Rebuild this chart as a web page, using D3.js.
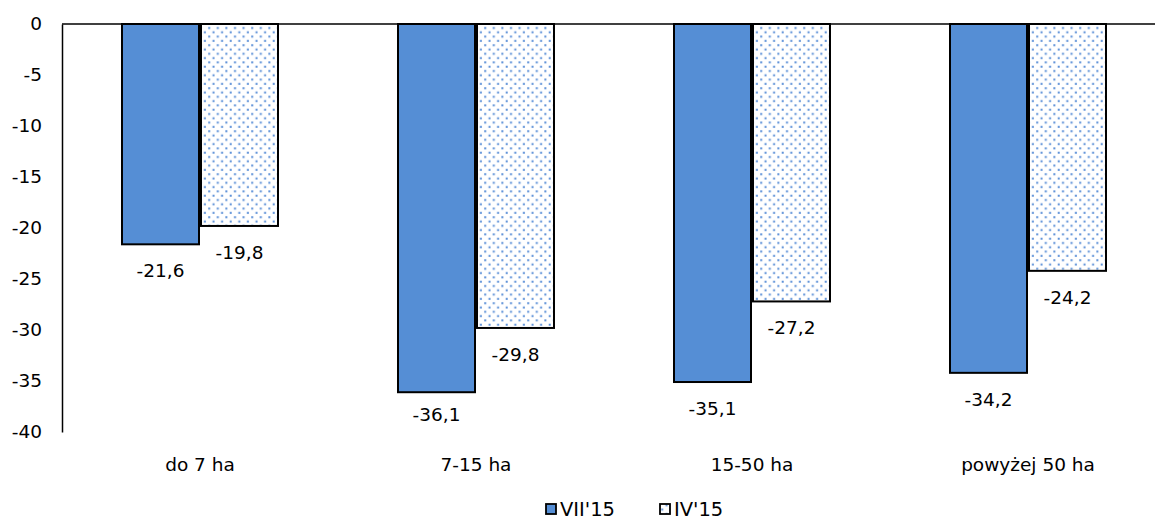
<!DOCTYPE html>
<html>
<head>
<meta charset="utf-8">
<script src="https://cdn.jsdelivr.net/npm/d3@7"></script>
<style>
  html, body { margin: 0; padding: 0; background: #fff; }
  svg { display: block; }
  text { font-family: Tahoma, "DejaVu Sans", sans-serif; fill: #000; }
</style>
</head>
<body>
<svg id="chart" width="1155" height="520"></svg>
<script>
// Farm size groups and their values for two survey rounds
const categories = ["do 7 ha", "7-15 ha", "15-50 ha", "powyżej 50 ha"];
const seriesNames = ["VII'15", "IV'15"];
const valuesVII15 = [-21.6, -36.1, -35.1, -34.2];
const valuesIV15 = [-19.8, -29.8, -27.2, -24.2];
const yTicks = [0, -5, -10, -15, -20, -25, -30, -35, -40];

const svg = d3.select("#chart");
const blue = "#558ed5";
const dotColor = "#5b8fd7";

// Dotted fill used by the second series
const defs = svg.append("defs");
const P = 8.6;
const pat = defs.append("pattern")
  .attr("id", "dots")
  .attr("patternUnits", "userSpaceOnUse")
  .attr("width", P).attr("height", P);
pat.append("rect").attr("width", P).attr("height", P).attr("fill", "#fff");
pat.append("rect").attr("x", 1.2).attr("y", 1.2).attr("width", 2).attr("height", 2).attr("fill", dotColor);
pat.append("rect").attr("x", 1.2 + P / 2).attr("y", 1.2 + P / 2).attr("width", 2).attr("height", 2).attr("fill", dotColor);

const plotLeft = 62, plotRight = 1166, plotTop = 24, plotBottom = 432;

const x = d3.scaleBand().domain(categories).range([plotLeft, plotRight]).paddingInner(0).paddingOuter(0);
const x1 = d3.scaleBand().domain(seriesNames).range([0, 158]).padding(0);
const y = d3.scaleLinear().domain([-40, 0]).range([plotBottom, plotTop]);

const data = categories.map((c, i) => ({ cat: c, vals: [
  { s: seriesNames[0], v: valuesVII15[i] },
  { s: seriesNames[1], v: valuesIV15[i] }
]}));

const groupOffset = (x.bandwidth() - 158) / 2;

const groups = svg.append("g").selectAll("g").data(data).join("g")
  .attr("transform", d => `translate(${x(d.cat) + groupOffset},0)`);

groups.selectAll("rect").data(d => d.vals).join("rect")
  .attr("x", d => x1(d.s) + 1)
  .attr("y", y(0))
  .attr("width", x1.bandwidth() - 2)
  .attr("height", d => y(d.v) - y(0))
  .attr("fill", (d, i) => i === 0 ? blue : "url(#dots)")
  .attr("stroke", "#000")
  .attr("stroke-width", 2);

// Value labels under each bar, kept inside the plot area
groups.selectAll("text.val").data(d => d.vals).join("text")
  .attr("class", "val")
  .attr("x", d => x1(d.s) + x1.bandwidth() / 2)
  .attr("y", d => Math.min(y(d.v) + 33, 421))
  .attr("text-anchor", "middle")
  .attr("font-size", 18.5)
  .text(d => d3.format(".1f")(d.v).replace(".", ",").replace("−", "-"));

// Zero line and vertical axis
svg.append("line")
  .attr("x1", plotLeft).attr("x2", 1155)
  .attr("y1", y(0)).attr("y2", y(0))
  .attr("stroke", "#000").attr("stroke-width", 1.5);

const yAxis = d3.axisLeft(y).tickValues(yTicks).tickSize(0).tickPadding(20)
  .tickFormat(d => String(d).replace("−", "-"));
const gy = svg.append("g").attr("transform", `translate(${plotLeft},0)`).call(yAxis);
gy.select(".domain").attr("stroke", "#000").attr("stroke-width", 1.5);
gy.selectAll("text").attr("font-size", 18.5).attr("font-family", "Tahoma, 'DejaVu Sans', sans-serif").attr("fill", "#000");

// Category labels
svg.append("g").selectAll("text").data(categories).join("text")
  .attr("x", d => x(d) + x.bandwidth() / 2)
  .attr("y", 471)
  .attr("text-anchor", "middle")
  .attr("font-size", 18.5)
  .text(d => d);

// Legend
const legendItems = [
  { name: seriesNames[0], fill: blue, x: 546 },
  { name: seriesNames[1], fill: "url(#dots)", x: 660 }
];
const lg = svg.append("g").selectAll("g").data(legendItems).join("g")
  .attr("transform", d => `translate(${d.x},0)`);
lg.append("rect").attr("x", 0).attr("y", 504).attr("width", 10).attr("height", 10)
  .attr("fill", d => d.fill).attr("stroke", "#000").attr("stroke-width", 1.8);
lg.append("text").attr("x", 14).attr("y", 516).attr("font-size", 19.5).text(d => d.name);
</script>
</body>
</html>
